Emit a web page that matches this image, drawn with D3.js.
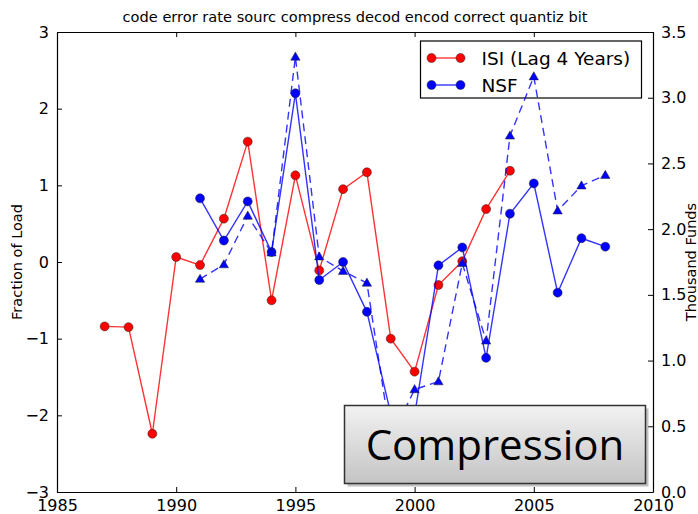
<!DOCTYPE html>
<html>
<head>
<meta charset="utf-8">
<script src="https://cdn.jsdelivr.net/npm/d3@7"></script>
<style>
  body { margin: 0; background: #fff; }
  svg { display: block; font-family: "DejaVu Sans", sans-serif; }
</style>
</head>
<body>
<svg id="chart" width="698" height="514"></svg>
<script>
// data
const isiYears = d3.range(1987, 2005)
const isiValues = [-0.84, -0.85, -2.24, 0.065, -0.04, 0.565, 1.57, -0.50, 1.13, -0.11,
  0.95, 1.17, -1.00, -1.43, -0.30, 0.01, 0.69, 1.19]
const nsfYears = d3.range(1991, 2009)
const nsfValues = [0.83, 0.28, 0.79, 0.13, 2.20, -0.235, 0.00, -0.65, -1.98, -2.0,
  -0.044, 0.19, -1.25, 0.63, 1.025, -0.40, 0.31, 0.20]
const fundValues = [1.62, 1.73, 2.10, 1.82, 3.31, 1.79, 1.68, 1.59, 0.41, 0.78,
  0.84, 1.74, 1.15, 2.71, 3.16, 2.14, 2.33, 2.41]
const xTicks = [1985, 1990, 1995, 2000, 2005, 2010]
const leftTicks = [-3, -2, -1, 0, 1, 2, 3]
const rightTicks = [0, 0.5, 1, 1.5, 2, 2.5, 3, 3.5]
const legendItems = [
  { name: 'ISI (Lag 4 Years)', color: '#ff0000' },
  { name: 'NSF', color: '#0000ff' }
]
const titleText = 'code error rate sourc compress decod encod correct quantiz bit'
const boxText = 'Compression'

const margin = { top: 32, right: 45, bottom: 22, left: 57 }
const W = 698, H = 514
const w = W - margin.left - margin.right
const h = H - margin.top - margin.bottom

const svg = d3.select('#chart')
const g = svg.append('g').attr('transform', `translate(${margin.left},${margin.top})`)

const x = d3.scaleLinear().domain([1985, 2010]).range([0, w])
const yL = d3.scaleLinear().domain([-3, 3]).range([h, 0])
const yR = d3.scaleLinear().domain([0, 3.5]).range([h, 0])

const minus = (v) => (v < 0 ? '\u2212' + Math.abs(v) : '' + v)

// axes (ticks inside, matplotlib style)
const axBottom = d3.axisBottom(x).tickValues(xTicks).tickSizeInner(-5).tickSizeOuter(0).tickPadding(8).tickFormat(d3.format('d'))
const axTop = d3.axisTop(x).tickValues(xTicks).tickSizeInner(-5).tickSizeOuter(0).tickFormat('')
const axLeft = d3.axisLeft(yL).tickValues(leftTicks).tickSizeInner(-5).tickSizeOuter(0).tickPadding(8).tickFormat(minus)
const axRight = d3.axisRight(yR).tickValues(rightTicks).tickSizeInner(-5).tickSizeOuter(0).tickPadding(8).tickFormat(d3.format('.1f'))

g.append('g').attr('transform', `translate(0,${h})`).call(axBottom)
g.append('g').call(axTop)
g.append('g').call(axLeft)
g.append('g').attr('transform', `translate(${w},0)`).call(axRight)

g.selectAll('.domain').attr('stroke', '#000').attr('stroke-width', 1.2)
g.selectAll('.tick line').attr('stroke', '#000')
g.selectAll('.tick text').attr('font-size', 16).attr('fill', '#000').attr('font-family', 'DejaVu Sans')

// title and axis labels
svg.append('text')
  .attr('x', margin.left + w / 2).attr('y', 22)
  .attr('text-anchor', 'middle').attr('font-size', 14.6)
  .text(titleText)
svg.append('text')
  .attr('transform', `translate(22,${margin.top + h / 2}) rotate(-90)`)
  .attr('text-anchor', 'middle').attr('font-size', 14.5)
  .text('Fraction of Load')
svg.append('text')
  .attr('transform', `translate(696,${margin.top + h / 2}) rotate(-90)`)
  .attr('text-anchor', 'middle').attr('font-size', 14.5)
  .text('Thousand Funds')

// solid series on the left axis
const lineL = d3.line().x((d) => x(d[0])).y((d) => yL(d[1]))
function drawSeries(years, values, color) {
  const pts = years.map((yr, i) => [yr, values[i]])
  g.append('path')
    .datum(pts)
    .attr('d', lineL)
    .attr('fill', 'none')
    .attr('stroke', color)
    .attr('stroke-opacity', 0.8)
    .attr('stroke-width', 1.4)
  g.append('g').selectAll('circle')
    .data(pts)
    .enter()
    .append('circle')
    .attr('cx', (d) => x(d[0]))
    .attr('cy', (d) => yL(d[1]))
    .attr('r', 4.5)
    .attr('fill', color)
    .attr('stroke', '#222')
    .attr('stroke-width', 0.5)
}
drawSeries(isiYears, isiValues, legendItems[0].color)
drawSeries(nsfYears, nsfValues, legendItems[1].color)

// legend
const lg = g.append('g').attr('transform', `translate(${420.5 - margin.left},${41 - margin.top})`)
lg.append('rect')
  .attr('width', 221).attr('height', 57)
  .attr('fill', '#fff').attr('stroke', '#000').attr('stroke-width', 1.2)
legendItems.forEach((it, i) => {
  const yy = 17 + i * 27
  lg.append('line')
    .attr('x1', 11).attr('x2', 40).attr('y1', yy).attr('y2', yy)
    .attr('stroke', it.color).attr('stroke-opacity', 0.8).attr('stroke-width', 1.4)
  ;[11, 40].forEach((cx) => {
    lg.append('circle').attr('cx', cx).attr('cy', yy).attr('r', 4.5)
      .attr('fill', it.color).attr('stroke', '#222').attr('stroke-width', 0.5)
  })
  lg.append('text')
    .attr('x', 61).attr('y', yy + 6.5)
    .attr('font-size', 18.5)
    .text(it.name)
})

// dashed series on the twin (right) axis, drawn over the legend
const fundPts = nsfYears.map((yr, i) => [yr, fundValues[i]])
g.append('path')
  .datum(fundPts)
  .attr('d', d3.line().x((d) => x(d[0])).y((d) => yR(d[1])))
  .attr('fill', 'none')
  .attr('stroke', '#0000ff')
  .attr('stroke-opacity', 0.8)
  .attr('stroke-width', 1.4)
  .attr('stroke-dasharray', '8,5')
const tri = d3.symbol().type(d3.symbolTriangle).size(38)
g.append('g').selectAll('path')
  .data(fundPts)
  .enter()
  .append('path')
  .attr('d', tri)
  .attr('transform', (d) => `translate(${x(d[0])},${yR(d[1]) + 0.5})`)
  .attr('fill', '#0000ff')
  .attr('stroke', '#222')
  .attr('stroke-width', 0.5)

// "Compression" label box
const defs = svg.append('defs')
const grad = defs.append('linearGradient').attr('id', 'boxGrad')
  .attr('x1', 0).attr('y1', 0).attr('x2', 0).attr('y2', 1)
grad.append('stop').attr('offset', '0%').attr('stop-color', '#f2f2f2')
grad.append('stop').attr('offset', '100%').attr('stop-color', '#c4c4c4')
const bx = 344.5, by = 405.5, bw = 301, bh = 78
svg.append('rect')
  .attr('x', bx + 3).attr('y', by + 3).attr('width', bw).attr('height', bh)
  .attr('fill', '#999').attr('opacity', 0.6)
svg.append('rect')
  .attr('x', bx).attr('y', by).attr('width', bw).attr('height', bh)
  .attr('fill', 'url(#boxGrad)').attr('stroke', '#333').attr('stroke-width', 1.5)
svg.append('text')
  .attr('x', bx + bw / 2).attr('y', 460)
  .attr('text-anchor', 'middle')
  .attr('font-family', '"Open Sans", sans-serif')
  .attr('font-size', 42)
  .attr('fill', '#000')
  .text(boxText)
</script>
</body>
</html>
